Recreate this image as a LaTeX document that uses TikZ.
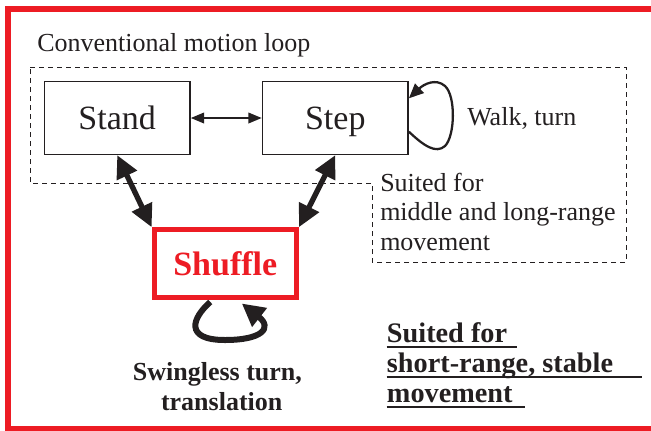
\documentclass[tikz,border=0pt]{standalone}
\usepackage{fontspec}
\setmainfont{Liberation Serif}
\usetikzlibrary{arrows.meta,calc}
\definecolor{fred}{RGB}{237,28,36}
\definecolor{ink}{RGB}{35,31,32}
\begin{document}
\begin{tikzpicture}[x=0.75pt,y=-0.75pt,
  every node/.style={inner sep=0pt, text=ink},
  txt/.style={font=\fontsize{19.5}{22.5}\selectfont, anchor=base west},
  btxt/.style={font=\fontsize{19.5}{22.5}\selectfont\bfseries, anchor=base},
  rtxt/.style={font=\fontsize{21.2}{24}\selectfont\bfseries, anchor=base west},
  state/.style={draw=ink, line width=1.1pt, minimum width=109.3pt, minimum height=54.5pt,
    font=\fontsize{25.5}{28}\selectfont, text height=17.3pt, text depth=0pt},
  redstate/.style={draw=fred, line width=3.75pt, minimum width=106.7pt, minimum height=50.8pt,
    font=\fontsize{25.5}{28}\selectfont\bfseries, text=fred, text height=17.3pt, text depth=0pt},
  dashbox/.style={draw=ink, line width=0.75pt, dash pattern=on 3.75pt off 3pt},
  thinarrow/.style={draw=ink, line width=1.2pt, arrows={Triangle[length=10pt,width=8pt]-Triangle[length=10pt,width=8pt]}},
  thickarrow/.style={draw=ink, line width=4pt, arrows={Triangle[length=17pt,width=16pt]-Triangle[length=17pt,width=16pt]}},
  steploop/.style={draw=ink, line width=1.7pt, arrows={-Triangle[length=11pt,width=9.5pt]}},
  shuffleloop/.style={draw=ink, line width=4.5pt, arrows={-Triangle[length=17pt,width=17pt]}},
  uline/.style={draw=ink, line width=1.5pt}
]
\useasboundingbox (0,0) rectangle (651,430);
\clip (0,0) rectangle (651,430);

% outer red frame
\draw[fred, line width=4.5pt] (8,9) rectangle (680,429);

% dashed loop region
\draw[dashbox] (30,67) -- (626,67) -- (626,262) -- (372,262) -- (372,183) -- (30,183) -- cycle;

% states
\node[state] (Stand) at (117.2,118) {Stand};
\node[state] (Step) at (335.3,118) {Step};
\node[redstate] (Shuffle) at (225.3,263.6) {Shuffle};

% connectors
\draw[thinarrow] (Stand) -- (Step);
\draw[thickarrow] (Stand.south) -- (Shuffle.north west);
\draw[thickarrow] (Step.south) -- (Shuffle.north east);

\coordinate (sl0) at ($(Step.east)+(0,13.7)$);
\coordinate (sl1) at ($(Step.east)+(0,-19.7)$);
\draw[steploop] (sl0) .. controls (424,146) and (436,154) .. (445,146)
  .. controls (455,136) and (456,96) .. (445,86)
  .. controls (436,78) and (424,84) .. (sl1);

\coordinate (fl0) at ($(Shuffle.south)+(-15,2)$);
\coordinate (fl1) at ($(Shuffle.south)+(16.5,3.5)$);
\draw[shuffleloop] (fl0) .. controls (192,318) and (184,340) .. (225,340)
  .. controls (262,340) and (273,328) .. (fl1);

% labels
\node[txt] (cml) at (37,51) {Conventional motion loop};
\node[txt] (wt) at (467,125) {Walk, turn};
\node[txt] (sf1) at (380,191) {Suited for};
\node[txt] (sf2) at (380,220.7) {middle and long-range};
\node[txt] (sf3) at (380,250.7) {movement};
\node[btxt] (sw1) at (217.4,380) {Swingless turn,};
\node[btxt] (sw2) at (221.7,410) {translation};
\node[rtxt] (sr1) at (386.7,342.7) {Suited for};
\node[rtxt] (sr2) at (386.7,372.7) {short-range, stable};
\node[rtxt] (sr3) at (386.7,402.7) {movement};
\draw[uline] ($(sr1.base west)+(0,4)$) -- ++(130,0);
\draw[uline] ($(sr2.base west)+(0,4)$) -- ++(255,0);
\draw[uline] ($(sr3.base west)+(0,4)$) -- ++(138.3,0);
\end{tikzpicture}
\end{document}
